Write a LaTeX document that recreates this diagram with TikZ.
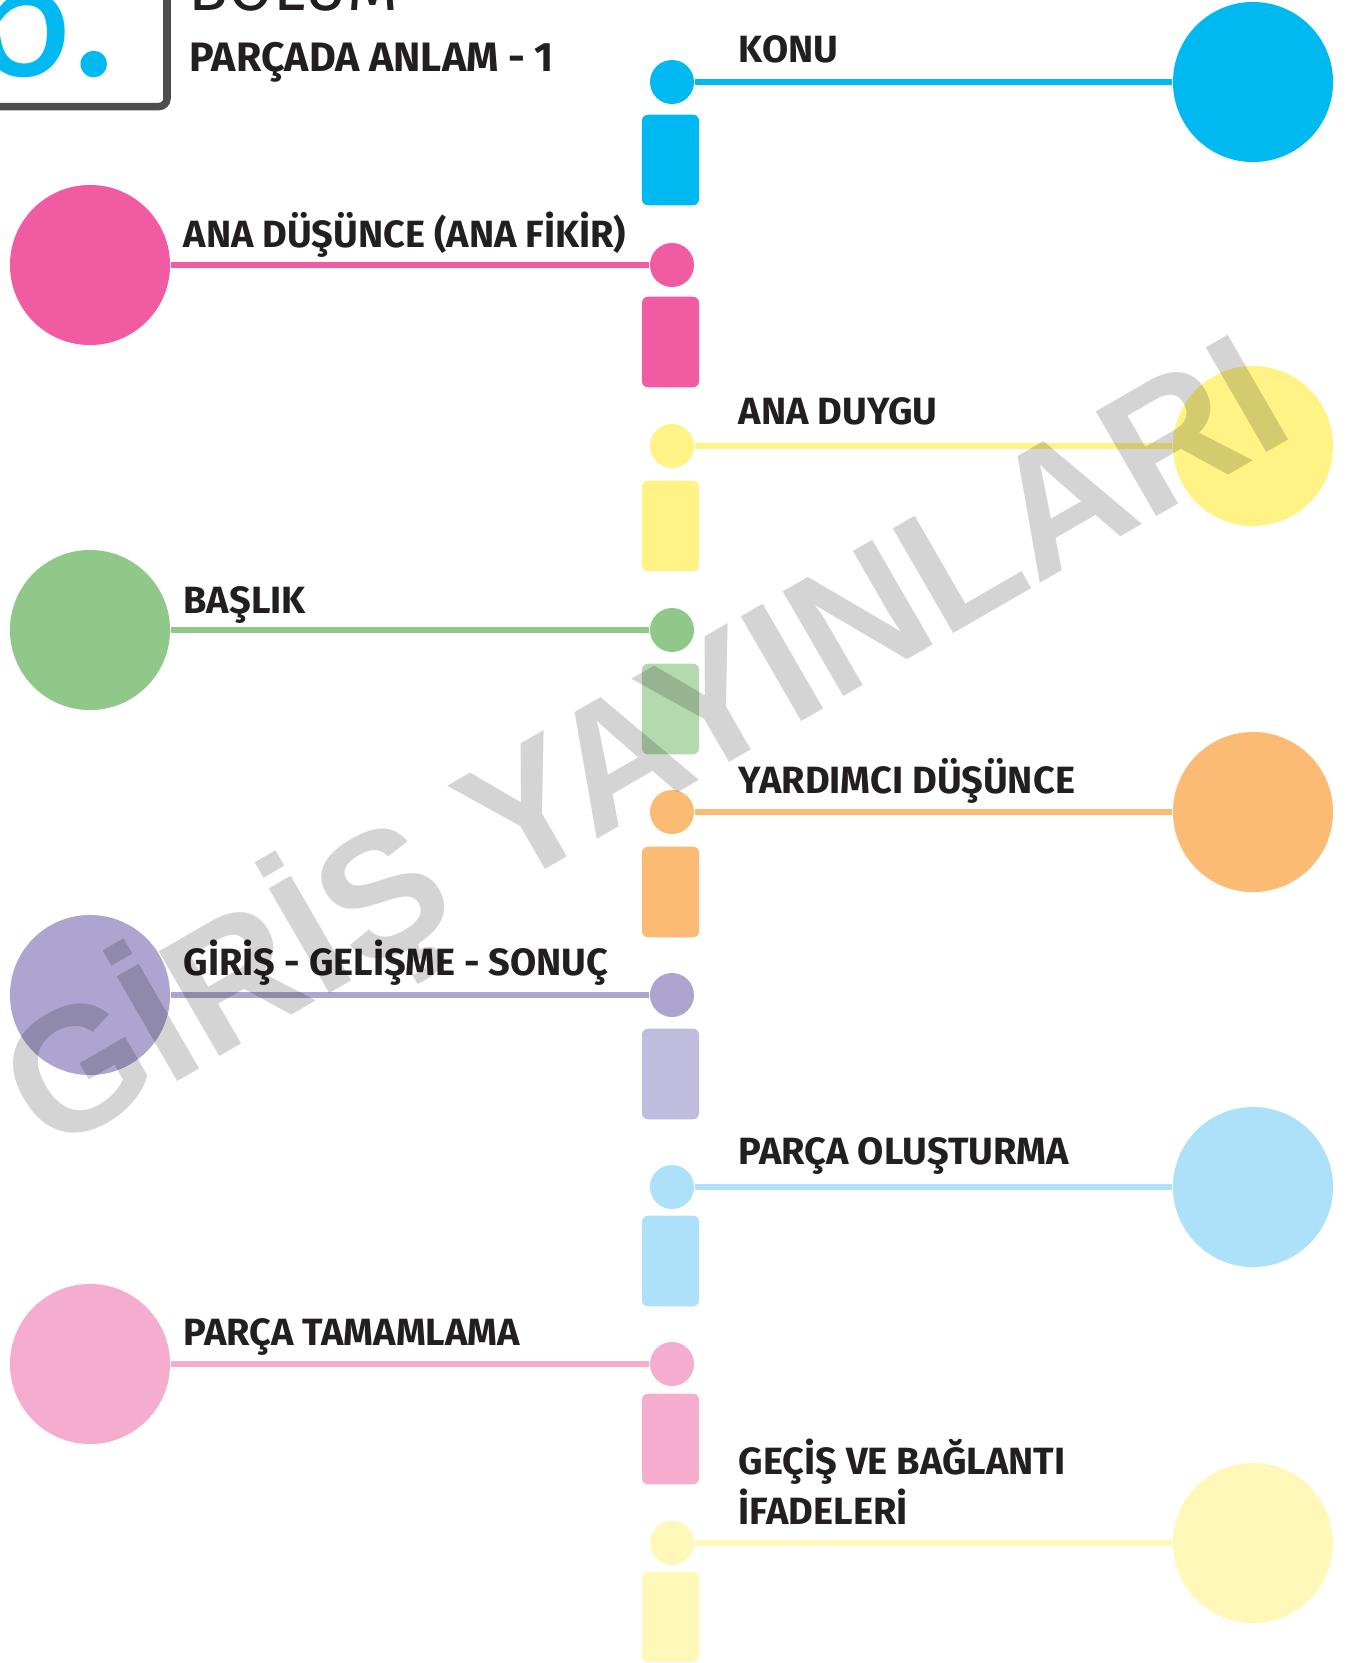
\documentclass[tikz,border=0pt]{standalone}
\usepackage{fontspec}
\setmainfont{Fira Sans}
\newfontfamily\wmfont{Liberation Sans}
\usepackage{tikz}
\usetikzlibrary{positioning}

\definecolor{ink}{HTML}{231F20}
\definecolor{boxgray}{HTML}{4D4D4D}
\definecolor{cKonu}{HTML}{00B9F1}
\definecolor{cFikir}{HTML}{F05BA1}
\definecolor{cDuygu}{HTML}{FFF385}
\definecolor{cBaslik}{HTML}{90C88A}
\definecolor{cBaslikBar}{HTML}{B5D9AE}
\definecolor{cYardim}{HTML}{FBBB75}
\definecolor{cGiris}{HTML}{ADA5D0}
\definecolor{cGirisBar}{HTML}{C0BCDD}
\definecolor{cOlustur}{HTML}{ADE1FA}
\definecolor{cTamam}{HTML}{F4ADCE}
\definecolor{cGecis}{HTML}{FFF8B8}

\newcommand{\topicfont}{\bfseries\fontsize{10.8}{12.5}\selectfont}

\begin{document}
\begin{tikzpicture}[x=0.01cm,y=-0.01cm,
	  every node/.style={inner sep=0pt,draw=none},
	  dot/.style={circle,minimum size=0.44cm,fill=#1},
	  bar/.style={rounded corners=0.06cm,minimum width=0.57cm,minimum height=0.905cm,fill=#1},
	  bigdot/.style={circle,minimum size=1.6cm,fill=#1},
	  topic/.style={anchor=base west,align=left,font=\topicfont,text=ink},
	  link/.style={draw=#1,line width=0.055cm}]

	  \useasboundingbox (0,0) rectangle (1359,1663);
	  \clip (0,0) rectangle (1359,1663);

	  % chapter header, cut by the page edge
	  \draw[boxgray,line width=0.075cm,rounded corners=0.08cm] (-60,-60) rectangle (167,106.5);
	  \node[anchor=base east,text=cKonu,font=\fontsize{54}{54}\selectfont] (chapnum) at (118,75) {6.};
	  \node[anchor=base west,text=ink,font=\fontsize{18.5}{18.5}\selectfont] (chapword) at (188,10) {BÖLÜM};
	  \node[anchor=base west,text=ink,font=\bfseries\fontsize{11.7}{11.7}\selectfont] (chaptitle) at (189,71) {PARÇADA ANLAM - 1};

	  % the "i" column
	  \node[dot=cKonu] (konu) at (672,82) {};
	  \node[bar=cKonu] (konubar) at (670.5,160) {};
	  \node[dot=cFikir] (fikir) at (672,265) {};
	  \node[bar=cFikir] (fikirbar) at (670.5,342) {};
	  \node[dot=cDuygu] (duygu) at (672,446) {};
	  \node[bar=cDuygu] (duygubar) at (670.5,526) {};
	  \node[dot=cBaslik] (baslik) at (672,630) {};
	  \node[bar=cBaslikBar] (baslikbar) at (670.5,709) {};
	  \node[dot=cYardim] (yardim) at (672,812) {};
	  \node[bar=cYardim] (yardimbar) at (670.5,892) {};
	  \node[dot=cGiris] (giris) at (672,995) {};
	  \node[bar=cGirisBar] (girisbar) at (670.5,1074) {};
	  \node[dot=cOlustur] (olustur) at (672,1187) {};
	  \node[bar=cOlustur] (olusturbar) at (670.5,1261) {};
	  \node[dot=cTamam] (tamam) at (672,1364) {};
	  \node[bar=cTamam] (tamambar) at (670.5,1439) {};
	  \node[dot=cGecis] (gecis) at (672,1543) {};
	  \node[bar=cGecis] (gecisbar) at (670.5,1617) {};

	  % big circles, right and left
	  \node[bigdot=cKonu] (konuend) at (1253,82) {};
	  \node[bigdot=cFikir] (fikirend) at (90,265) {};
	  \node[bigdot=cDuygu] (duyguend) at (1253,446) {};
	  \node[bigdot=cBaslik] (baslikend) at (90,630) {};
	  \node[bigdot=cYardim] (yardimend) at (1253,812) {};
	  \node[bigdot=cGiris] (girisend) at (90,995) {};
	  \node[bigdot=cOlustur] (olusturend) at (1253,1187) {};
	  \node[bigdot=cTamam] (tamamend) at (90,1364) {};
	  \node[bigdot=cGecis] (gecisend) at (1253,1543) {};

	  \draw[link=cKonu] (konu) -- (konuend);
	  \draw[link=cFikir] (fikir) -- (fikirend);
	  \draw[link=cDuygu] (duygu) -- (duyguend);
	  \draw[link=cBaslik] (baslik) -- (baslikend);
	  \draw[link=cYardim] (yardim) -- (yardimend);
	  \draw[link=cGiris] (giris) -- (girisend);
	  \draw[link=cOlustur] (olustur) -- (olusturend);
	  \draw[link=cTamam] (tamam) -- (tamamend);
	  \draw[link=cGecis] (gecis) -- (gecisend);

	  % topics
	  \node[topic] (konutxt) at (738,62) {KONU};
	  \node[topic] (fikirtxt) at (183,247) {ANA DÜŞÜNCE (ANA FİKİR)};
	  \node[topic] (duygutxt) at (738,424) {ANA DUYGU};
	  \node[topic] (basliktxt) at (183,613) {BAŞLIK};
	  \node[topic] (yardimtxt) at (738,793) {YARDIMCI DÜŞÜNCE};
	  \node[topic] (giristxt) at (183,975) {GİRİŞ - GELİŞME - SONUÇ};
	  \node[topic] (olusturtxt) at (738,1164) {PARÇA OLUŞTURMA};
	  \node[topic] (tamamtxt) at (183,1345) {PARÇA TAMAMLAMA};
	  % base of a two-line node sits on its last line
	  \node[topic] (gecistxt) at (738,1524) {GEÇİŞ VE BAĞLANTI\\İFADELERİ};

	  % watermark over everything
	  \node[rotate=30,anchor=base east,text=black,text opacity=0.17,
	        font=\wmfont\bfseries\fontsize{50}{50}\selectfont] (wmark) at (1299,434) {GİRİŞ YAYINLARI};
\end{tikzpicture}
\end{document}
